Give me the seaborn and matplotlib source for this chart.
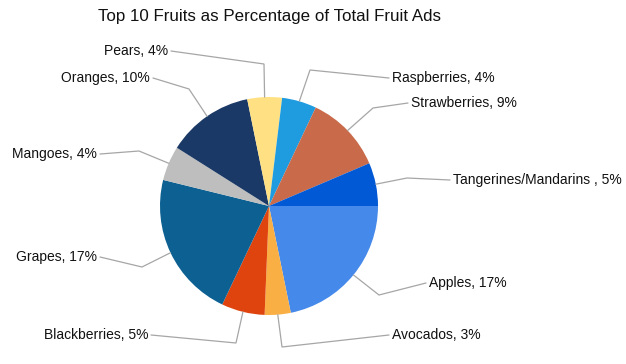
import matplotlib
matplotlib.use("Agg")
import matplotlib.pyplot as plt
import seaborn as sns
import numpy as np

# ---- data ----
fruits = ["Apples", "Avocados", "Blackberries", "Grapes", "Mangoes",
          "Oranges", "Pears", "Raspberries", "Strawberries", "Tangerines/Mandarins "]
percents = [17, 3, 5, 17, 4, 10, 4, 4, 9, 5]
colors = ["#4589EA", "#F9AF43", "#DF440E", "#0C6192", "#BEBEBE",
          "#1B3966", "#FFE184", "#1F9BE0", "#C96B4A", "#0259D5"]

# ---- layout (pixel coords, y measured from top) ----
W, H = 626, 364
center_px = (269, 206)
radius_px = 109
# text anchor positions and leader-line elbows
text_pos = [(429, 283), (392, 335), (148, 335), (97, 257), (97, 154),
            (150, 78), (168, 51), (392, 78), (411, 103), (453, 180)]
text_ha = ["left", "left", "right", "right", "right",
           "right", "right", "left", "left", "left"]
elbows = [(379, 295), (282, 347), (236, 343), (142, 267), (139, 151),
          (189, 89), (264, 64), (310, 70), (373, 108), (407, 178)]

sns.set_style("white")
plt.rcParams["font.family"] = ["Liberation Sans", "DejaVu Sans"]

fig = plt.figure(figsize=(W / 100, H / 100), dpi=100)
ax = fig.add_axes([0, 0, 1, 1])

cx, cy = center_px[0], H - center_px[1]
wedges, _ = ax.pie(percents, colors=colors, startangle=0, counterclock=False,
                   center=(cx, cy), radius=radius_px,
                   wedgeprops=dict(linewidth=0), frame=True)
ax.set_xlim(0, W)
ax.set_ylim(0, H)
ax.set_aspect("equal")
ax.axis("off")

for w, name, p, tp, ha, el in zip(wedges, fruits, percents, text_pos, text_ha, elbows):
    mid = np.deg2rad((w.theta1 + w.theta2) / 2)
    ax_x = cx + radius_px * np.cos(mid)
    ax_y = cy + radius_px * np.sin(mid)
    tx, ty = tp[0], H - tp[1]
    ex, ey = el[0], H - el[1]
    end_x = tx - 3 if ha == "left" else tx + 3
    ax.plot([ax_x, ex, end_x], [ax_y, ey, ty], color="#A6A6A6", lw=0.9,
            solid_joinstyle="miter", zorder=1)
    ax.text(tx, ty, f"{name}, {p}%", ha=ha, va="center", fontsize=10,
            color="#111111")

ax.text(cx, H - 16, "Top 10 Fruits as Percentage of Total Fruit Ads",
        ha="center", va="center", fontsize=12.2, color="#111111")

fig.savefig("out.png", dpi=100, facecolor="white")
